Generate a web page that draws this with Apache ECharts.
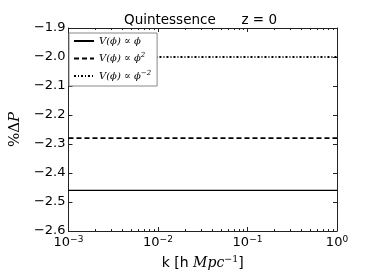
<!DOCTYPE html>
<html>
<head>
<meta charset="utf-8">
<script src="https://cdn.jsdelivr.net/npm/echarts@6/dist/echarts.min.js"></script>
<style>html,body{margin:0;padding:0;background:#fff}#c{width:374px;height:280px}</style>
</head>
<body>
<div id="c"></div>
<script>
const kValues = [0.001, 0.01, 0.1, 1];
const seriesLinear = [-2.46, -2.46, -2.46, -2.46];
const seriesQuadratic = [-2.28, -2.28, -2.28, -2.28];
const seriesInverse = [-2.0, -2.0, -2.0, -2.0];
const seriesNames = ['lin', 'quad', 'inv'];
const legendLabels = {
  lin: '{t|V(ϕ) ∝ ϕ}',
  quad: '{t|V(ϕ) ∝ ϕ}{s|2}',
  inv: '{t|V(ϕ) ∝ ϕ}{s|−2}'
};
const yMin = -2.6, yMax = -1.9, yStep = 0.1;
const xMin = 0.001, xMax = 1;
const decadeExponents = [-3, -2, -1];
const minorMultipliers = [2, 3, 4, 5, 6, 7, 8, 9];
const minorTickValues = [];
decadeExponents.forEach(e => minorMultipliers.forEach(m => minorTickValues.push(m * Math.pow(10, e))));

const pairs = arr => kValues.map((k, i) => [k, arr[i]]);
const axisCol = '#222';
const sans = 'DejaVu Sans';
const serif = 'DejaVu Serif';

const chart = echarts.init(document.getElementById('c'));
const xBase = {
  type: 'log', logBase: 10, min: xMin, max: xMax,
  axisLine: {show: true, lineStyle: {color: axisCol, width: 1}},
  axisTick: {show: true, inside: true, length: 4, lineStyle: {color: axisCol}},
  splitLine: {show: false}
};
const yBase = {
  type: 'value', min: yMin, max: yMax, interval: yStep,
  axisLine: {show: true, lineStyle: {color: axisCol, width: 1}},
  axisTick: {show: true, inside: true, length: 4, lineStyle: {color: axisCol}},
  splitLine: {show: false}
};
chart.setOption({
  animation: false,
  backgroundColor: '#fff',
  title: {
    text: 'Quintessence      z = 0', left: 124, top: 13, padding: 0,
    textStyle: {fontFamily: sans, fontSize: 13.5, fontWeight: 'normal', color: '#000'}
  },
  grid: {left: 63, right: 37, top: 28, bottom: 49},
  legend: {
    orient: 'vertical', left: 69, top: 33,
    padding: [3, 6, 5, 4], itemGap: 6, itemWidth: 20, itemHeight: 11,
    backgroundColor: '#fff', borderColor: '#888', borderWidth: 1, borderRadius: 0,
    data: seriesNames,
    itemStyle: {opacity: 0},
    formatter: n => legendLabels[n],
    textStyle: {
      color: '#000',
      rich: {
        t: {fontFamily: serif, fontStyle: 'italic', fontSize: 10, color: '#000'},
        s: {fontFamily: serif, fontStyle: 'italic', fontSize: 7, color: '#000', verticalAlign: 'bottom', padding: [0, 0, 6, 0]}
      }
    }
  },
  xAxis: [
    Object.assign({}, xBase, {
      position: 'bottom',
      name: '{a|k [h }{m|Mpc}{s|−1}{a|]}',
      nameLocation: 'middle', nameGap: 19,
      nameTextStyle: {
        rich: {
          a: {fontFamily: sans, fontSize: 14, color: '#000'},
          m: {fontFamily: serif, fontStyle: 'italic', fontSize: 14, color: '#000'},
          s: {fontFamily: serif, fontSize: 9.5, color: '#000', padding: [0, 0, 8, 0]}
        }
      },
      axisLabel: {
        margin: 4,
        formatter: v => {
          const e = Math.round(Math.log10(v));
          return '{b|10}{s|' + String(e).replace('-', '−') + '}';
        },
        rich: {
          b: {fontFamily: sans, fontSize: 13, color: '#000'},
          s: {fontFamily: sans, fontSize: 9, color: '#000', padding: [0, 0, 7, 0]}
        }
      }
    }),
    Object.assign({}, xBase, {position: 'top', axisLabel: {show: false}})
  ],
  yAxis: [
    Object.assign({}, yBase, {
      position: 'left',
      name: '{p|%}{d|Δ}{q|P}',
      nameLocation: 'middle', nameGap: 40, nameRotate: 90,
      nameTextStyle: {
        rich: {
          p: {fontFamily: serif, fontSize: 15, color: '#000'},
          d: {fontFamily: serif, fontSize: 15, color: '#000'},
          q: {fontFamily: serif, fontStyle: 'italic', fontSize: 15, color: '#000'}
        }
      },
      axisLabel: {
        margin: 3, fontFamily: sans, fontSize: 13, color: '#000',
        formatter: v => v.toFixed(1).replace('-', '−')
      }
    }),
    Object.assign({}, yBase, {position: 'right', axisLabel: {show: false}})
  ],
  series: [
    {name: seriesNames[0], type: 'line', data: pairs(seriesLinear), symbol: 'none',
     lineStyle: {color: '#000', width: 1.2, type: 'solid'}, itemStyle: {color: '#000'}},
    {name: seriesNames[1], type: 'line', data: pairs(seriesQuadratic), symbol: 'none',
     lineStyle: {color: '#000', width: 1.8, type: [5, 3]}, itemStyle: {color: '#000'}},
    {name: seriesNames[2], type: 'line', data: pairs(seriesInverse), symbol: 'none',
     lineStyle: {color: '#000', width: 1.8, type: [2, 2, 1, 2]}, itemStyle: {color: '#000'}},
    {
      name: 'minorTicks', type: 'custom', silent: true, clip: false, z: 1,
      data: minorTickValues.map(v => [v]),
      renderItem: (params, api) => {
        const v = api.value(0);
        const b = api.coord([v, yMin]);
        const t = api.coord([v, yMax]);
        const x = Math.round(b[0]) + 0.5;
        return {
          type: 'group',
          children: [
            {type: 'line', shape: {x1: x, y1: b[1], x2: x, y2: b[1] - 2}, style: {stroke: axisCol, lineWidth: 1}},
            {type: 'line', shape: {x1: x, y1: t[1], x2: x, y2: t[1] + 2}, style: {stroke: axisCol, lineWidth: 1}}
          ]
        };
      }
    }
  ]
});
</script>
</body>
</html>
